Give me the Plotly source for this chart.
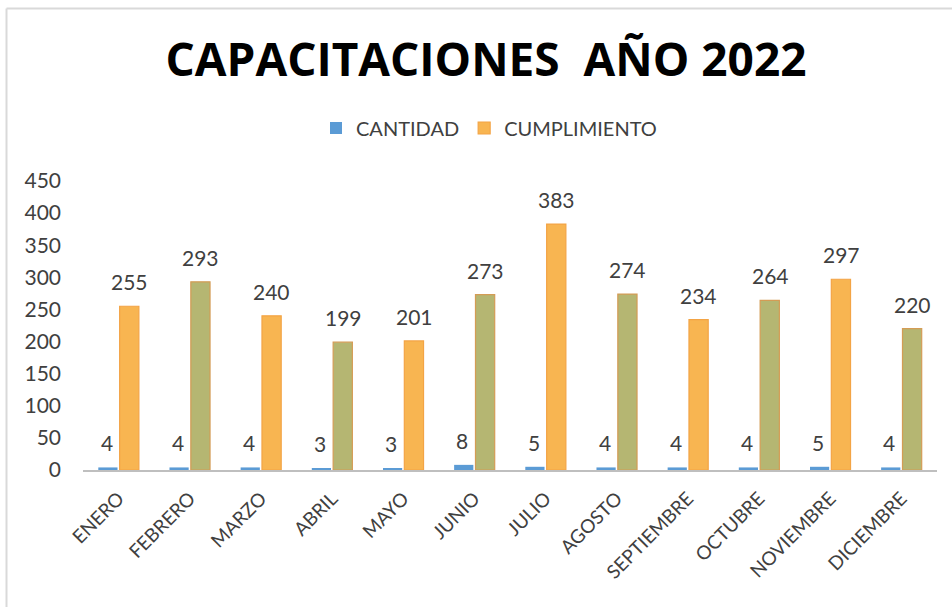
import plotly.graph_objects as go

meses = ["ENERO", "FEBRERO", "MARZO", "ABRIL", "MAYO", "JUNIO", "JULIO",
         "AGOSTO", "SEPTIEMBRE", "OCTUBRE", "NOVIEMBRE", "DICIEMBRE"]
cantidad = [4, 4, 4, 3, 3, 8, 5, 4, 4, 4, 5, 4]
cumplimiento = [255, 293, 240, 199, 201, 273, 383, 274, 234, 264, 297, 220]
y_ticks = [0, 50, 100, 150, 200, 250, 300, 350, 400, 450]

FONT = "Lato"
TXT = "#404040"

orange_fill = ["#F8B551" if i % 2 == 0 else "#B5B672" for i in range(len(meses))]
orange_line = ["#F3A445" if i % 2 == 0 else "#D49C55" for i in range(len(meses))]

fig = go.Figure()
fig.add_trace(go.Bar(
    name="CANTIDAD", x=meses, y=cantidad,
    marker=dict(color="#5B9BD5", line=dict(color="#5B9BD5", width=0)),
))
fig.add_trace(go.Bar(
    name="CUMPLIMIENTO", x=meses, y=cumplimiento,
    marker=dict(color=orange_fill, line=dict(color=orange_line, width=1.2)),
))

annotations = []
for m, c, v in zip(meses, cantidad, cumplimiento):
    annotations.append(dict(x=m, y=c, text=str(c), showarrow=False, xref="x", yref="y",
                            yanchor="bottom", xshift=-12, yshift=10,
                            font=dict(family=FONT, size=21, color=TXT)))
    annotations.append(dict(x=m, y=v, text=str(v), showarrow=False, xref="x", yref="y",
                            yanchor="bottom", xshift=11, yshift=10,
                            font=dict(family=FONT, size=21, color=TXT)))

L, R, T, B = 83, 15, 181, 137
W, H = 952, 607
pw, ph = W - L - R, H - T - B

def px(xp):
    return (xp - L) / pw

def py(yp):
    return (H - B - yp) / ph

shapes = [
    dict(type="line", xref="paper", yref="paper", x0=px(6.5), x1=px(6.5), y0=py(8.5), y1=py(607),
         line=dict(color="#D9D9D9", width=2)),
    dict(type="line", xref="paper", yref="paper", x0=px(6.5), x1=px(952), y0=py(8.5), y1=py(8.5),
         line=dict(color="#D9D9D9", width=2)),
]

fig.update_layout(
    width=W, height=H,
    margin=dict(l=L, r=R, t=T, b=B, autoexpand=False),
    paper_bgcolor="white", plot_bgcolor="white",
    barmode="group", bargap=0.4, bargroupgap=0.1,
    title=dict(text="<b>CAPACITACIONES  AÑO 2022</b>", x=486 / W, xanchor="center",
               y=1 - 60 / H, yanchor="middle",
               font=dict(family="Open Sans", size=46, color="black")),
    legend=dict(orientation="h", x=px(489), xanchor="center", y=py(128), yanchor="middle",
                font=dict(family=FONT, size=20, color=TXT), itemwidth=30,
                traceorder="normal"),
    xaxis=dict(showline=True, linecolor="#BFBFBF", linewidth=2, tickangle=-45,
               tickfont=dict(family=FONT, size=19, color=TXT), ticks="", showgrid=False,
               ticklabelstandoff=8),
    yaxis=dict(range=[0, 450], tickvals=y_ticks, showgrid=False, zeroline=False,
               showline=False, tickfont=dict(family=FONT, size=21, color=TXT), ticks="",
               ticklabelstandoff=21),
    annotations=annotations, shapes=shapes,
    showlegend=True,
)

fig.write_html("out.html", config={"displayModeBar": False},
               post_script="document.body.style.margin='0';")
